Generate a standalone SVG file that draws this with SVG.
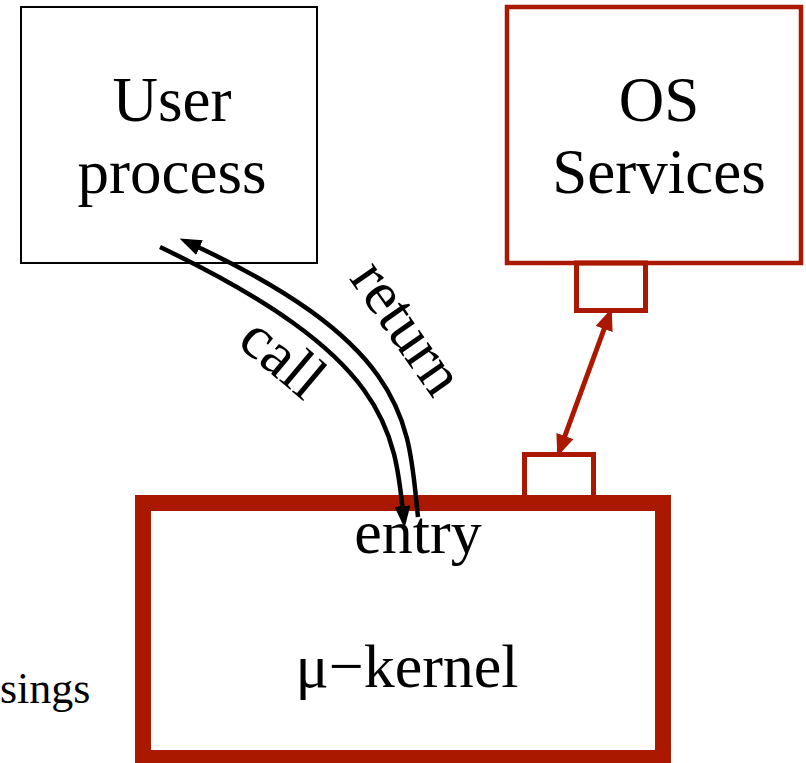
<svg xmlns="http://www.w3.org/2000/svg" width="806" height="763" viewBox="0 0 806 763">
  <style>
    .lbl { font-family: "Liberation Serif", "Times New Roman", serif; fill: #000; }
    .red { stroke: #aa1800; fill: none; }
    .flow { stroke: #000; stroke-width: 4.5; fill: none; }
  </style>
  <defs>
    <marker id="ahBlack" markerUnits="userSpaceOnUse" markerWidth="22" markerHeight="16" viewBox="0 0 22 16" refX="16" refY="8" orient="auto">
      <path d="M0,0 L22,8 L0,16 z" fill="#000"/>
    </marker>
    <marker id="ahRed" markerUnits="userSpaceOnUse" markerWidth="22" markerHeight="18" viewBox="0 0 22 18" refX="17" refY="9" orient="auto-start-reverse">
      <path d="M0,0 L22,9 L0,18 z" fill="#aa1800"/>
    </marker>
  </defs>

  <rect width="806" height="763" fill="#fff"/>

  <!-- user process -->
  <g id="user-process">
    <rect x="21" y="7" width="296" height="256" fill="#fff" stroke="#000" stroke-width="2"/>
    <text class="lbl" font-size="63" text-anchor="middle" x="172" y="121">User</text>
    <text class="lbl" font-size="63" text-anchor="middle" x="172" y="193">process</text>
  </g>

  <!-- OS services with its port -->
  <g id="os-services">
    <rect class="red" x="507" y="7" width="294" height="256" stroke-width="4.5"/>
    <rect class="red" x="576.5" y="263" width="69" height="47.5" stroke-width="5"/>
    <text class="lbl" font-size="63" text-anchor="middle" x="659" y="121">OS</text>
    <text class="lbl" font-size="63" text-anchor="middle" x="659" y="193">Services</text>
  </g>

  <!-- micro-kernel with its port -->
  <g id="kernel">
    <rect class="red" x="524.5" y="454.5" width="69" height="44" stroke-width="5"/>
    <rect class="red" x="143" y="503" width="520" height="255" stroke-width="16"/>
    <text class="lbl" font-size="62" text-anchor="middle" x="418" y="553">entry</text>
    <text class="lbl" font-size="62" text-anchor="middle" x="407" y="687">μ−kernel</text>
  </g>

  <text id="sings" class="lbl" font-size="44" x="0" y="703">sings</text>

  <!-- connectors -->
  <g id="connectors">
    <path id="call" class="flow" d="M160,247 C390,357 395,430 404,522" marker-end="url(#ahBlack)"/>
    <path id="return" class="flow" d="M418,517 C408,427 415,346 185,241" marker-end="url(#ahBlack)"/>
    <line id="port-link" class="red" x1="559" y1="452" x2="610" y2="313" stroke-width="5" marker-start="url(#ahRed)" marker-end="url(#ahRed)"/>
    <text class="lbl" font-size="62" text-anchor="middle" x="270" y="373" transform="rotate(40 270 373)">call</text>
    <text class="lbl" font-size="62" text-anchor="middle" x="391" y="339" transform="rotate(55 391 339)">return</text>
  </g>
</svg>
